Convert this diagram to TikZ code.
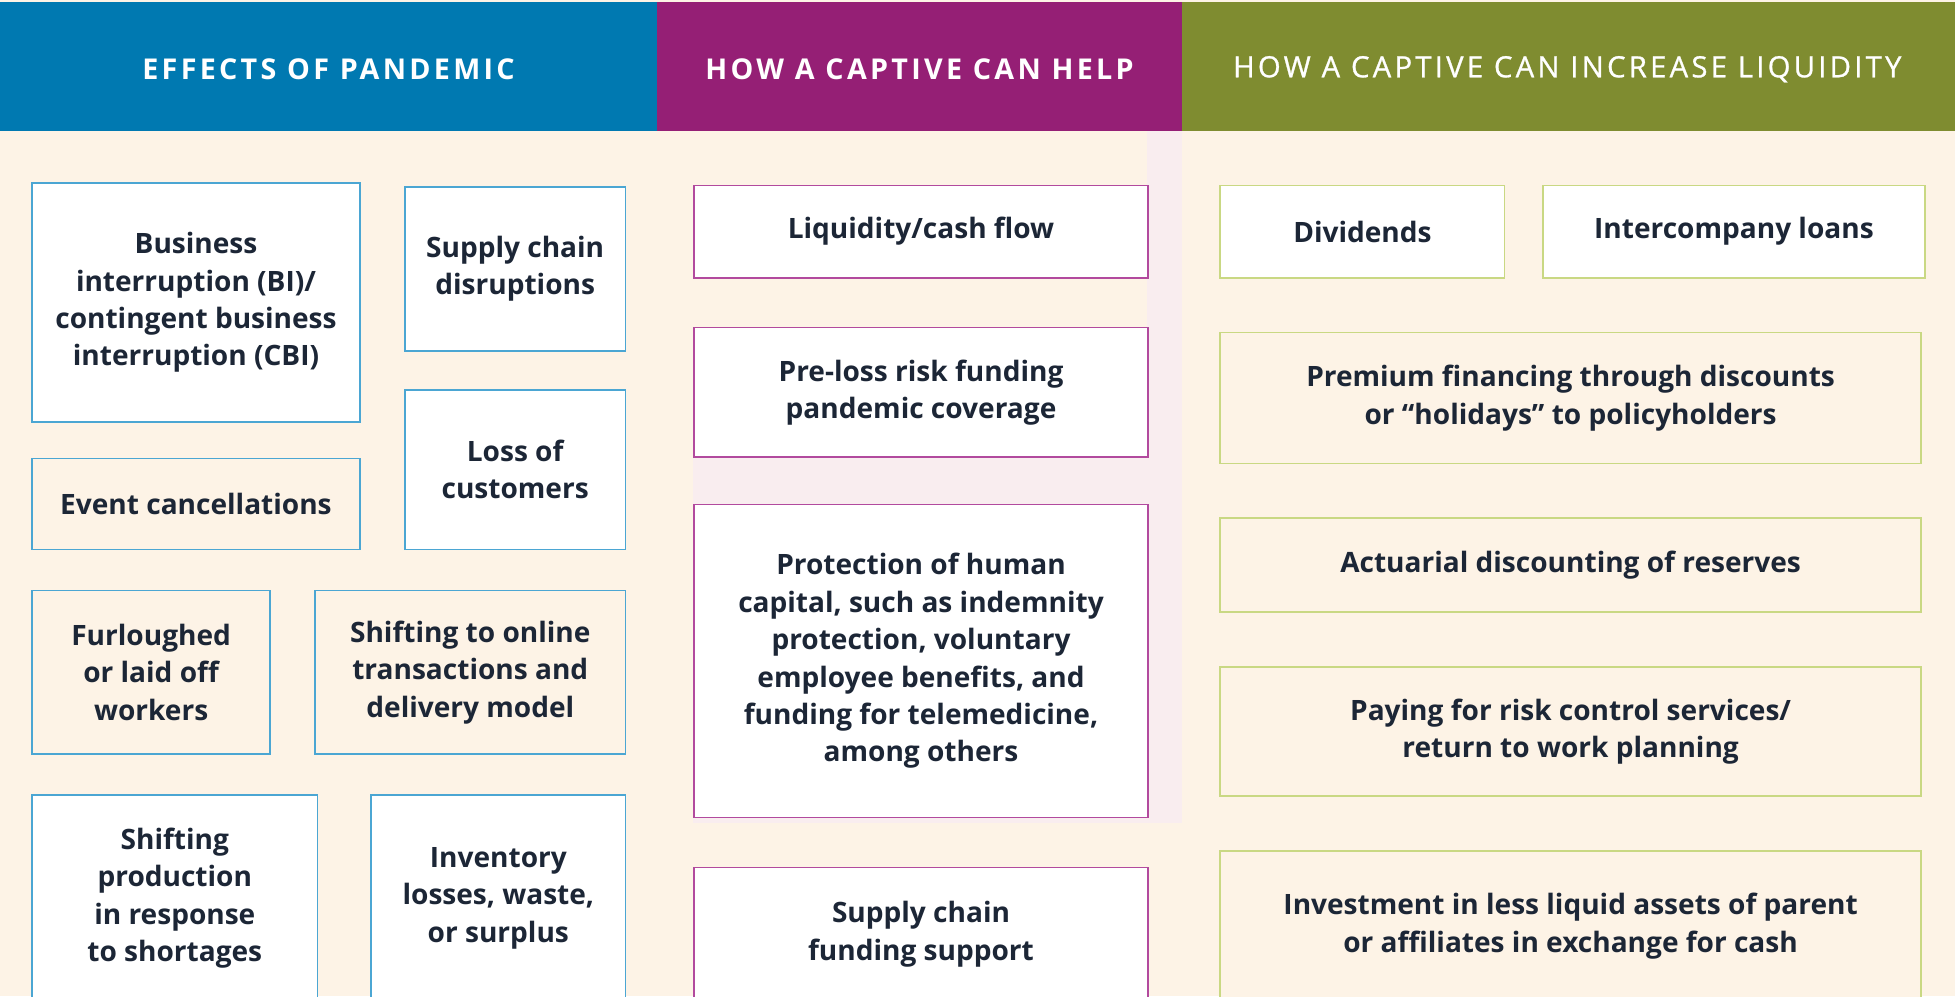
\documentclass[tikz,border=0pt]{standalone}
\usepackage{fontspec}
\setmainfont{Open Sans}
\newfontfamily\headfont{Open Sans}[LetterSpace=11.5]
\newfontfamily\headfontb{Open Sans}[LetterSpace=11,FakeBold=0.9]
\definecolor{cream}{HTML}{FDF3E6}
\definecolor{pinktint}{HTML}{F9EDEF}
\definecolor{hblue}{HTML}{0079B1}
\definecolor{hpurple}{HTML}{951F75}
\definecolor{hgreen}{HTML}{7F8C30}
\definecolor{bblue}{HTML}{4BA6D3}
\definecolor{bpurple}{HTML}{B24A9E}
\definecolor{bgreen}{HTML}{C9D883}
\definecolor{navy}{HTML}{1C2636}
\tikzset{
  hdr/.style={anchor=north west, inner sep=0, outer sep=0, text=white},
  box/.style={anchor=north west, draw, line width=1.4pt, inner sep=0, align=center,
    text=navy, font=\bfseries\fontsize{22.5}{30}\selectfont},
  bluebox/.style={box, draw=bblue},
  purplebox/.style={box, draw=bpurple, fill=white},
  greenbox/.style={box, draw=bgreen},
  wfill/.style={fill=white},
  cfill/.style={fill=cream}
}
\begin{document}
\begin{tikzpicture}[x=1pt,y=-1pt]
\useasboundingbox (0,0) rectangle (1568,799);
\fill[cream] (0,0) rectangle (1568,799);
% faint pink tint behind middle column
\fill[pinktint] (920,105) rectangle (948,660);
\fill[pinktint] (556,366) rectangle (948,404);
\fill[pinktint] (556,655) rectangle (948,660);
% headers
\node[hdr, fill=hblue, minimum width=527pt, minimum height=103pt] (h1) at (0,2) {};
\node[hdr, fill=hpurple, minimum width=421pt, minimum height=103pt] (h2) at (527,2) {};
\node[hdr, fill=hgreen, minimum width=620pt, minimum height=103pt] (h3) at (948,2) {};
\node[text=white, font=\headfont\bfseries\fontsize{23}{25}\selectfont] (t1) at ([yshift=-2pt]h1.center) {EFFECTS OF PANDEMIC};
\node[text=white, font=\headfont\bfseries\fontsize{23}{25}\selectfont] (t2) at ([yshift=-2pt]h2.center) {HOW A CAPTIVE CAN HELP};
\node[text=white, font=\headfontb\fontsize{23.5}{25}\selectfont] (t3) at ([xshift=-1pt,yshift=-2pt]h3.center) {HOW A CAPTIVE CAN INCREASE LIQUIDITY};
% column 1
\node[bluebox, wfill, minimum width=263pt, minimum height=192pt] (bi) at (25,146)
  {Business\\interruption (BI)/\\contingent business\\interruption (CBI)};
\node[bluebox, wfill, minimum width=177pt, minimum height=132pt] (sc) at (324,149)
  {Supply chain\\disruptions};
\node[bluebox, wfill, minimum width=177pt, minimum height=128pt] (lc) at (324,312)
  {Loss of\\customers};
\node[bluebox, cfill, minimum width=263pt, minimum height=73pt] (ec) at (25,367)
  {Event cancellations};
\node[bluebox, cfill, minimum width=191pt, minimum height=131pt] (fw) at (25,473)
  {Furloughed\\or laid off\\workers};
\node[bluebox, cfill, minimum width=249pt, minimum height=131pt] (so) at (252,473)
  {Shifting to online\\transactions and\\delivery model};
\node[bluebox, wfill, minimum width=229pt, minimum height=165pt] (sp) at (25,637)
  {Shifting\\production\\in response\\to shortages};
\node[bluebox, wfill, minimum width=204pt, minimum height=165pt] (il) at (297,637)
  {Inventory\\losses, waste,\\or surplus};
% column 2
\node[purplebox, minimum width=364pt, minimum height=74pt] (lq) at (556,148)
  {Liquidity/cash flow};
\node[purplebox, minimum width=364pt, minimum height=104pt] (pl) at (556,262)
  {Pre-loss risk funding\\pandemic coverage};
\node[purplebox, minimum width=364pt, minimum height=251pt] (ph) at (556,404)
  {Protection of human\\capital, such as indemnity\\protection, voluntary\\employee benefits, and\\funding for telemedicine,\\among others};
\node[purplebox, minimum width=364pt, minimum height=107pt] (sf) at (556,695)
  {Supply chain\\funding support};
% column 3
\node[greenbox, wfill, minimum width=228pt, minimum height=74pt] (dv) at (978,148)
  {Dividends};
\node[greenbox, wfill, minimum width=306pt, minimum height=74pt] (ic) at (1237,148)
  {Intercompany loans};
\node[greenbox, cfill, minimum width=562pt, minimum height=105pt] (pf) at (978,266)
  {Premium financing through discounts\\or “holidays” to policyholders};
\node[greenbox, cfill, minimum width=562pt, minimum height=75pt] (ad) at (978,415)
  {Actuarial discounting of reserves};
\node[greenbox, cfill, minimum width=562pt, minimum height=104pt] (pr) at (978,534)
  {Paying for risk control services/\\return to work planning};
\node[greenbox, cfill, minimum width=562pt, minimum height=120pt] (iv) at (978,682)
  {Investment in less liquid assets of parent\\or affiliates in exchange for cash};
\end{tikzpicture}
\end{document}
